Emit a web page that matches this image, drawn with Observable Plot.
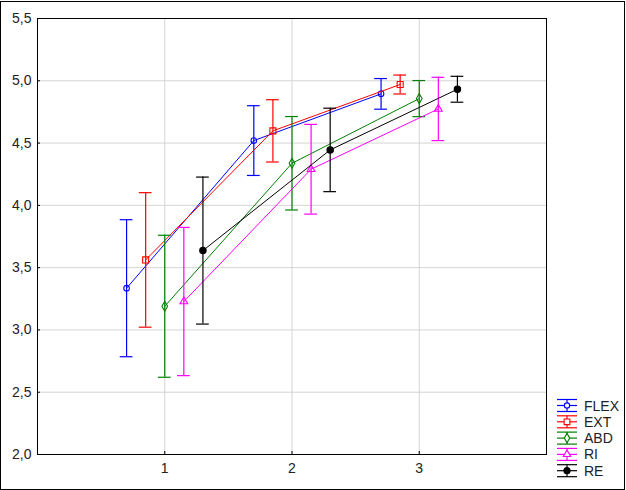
<!DOCTYPE html>
<html>
<head>
<meta charset="utf-8">
<script src="https://cdn.jsdelivr.net/npm/d3@7"></script>
<script src="https://cdn.jsdelivr.net/npm/@observablehq/plot@0.6"></script>
<style>
  html, body { margin: 0; padding: 0; background: #fff; }
  #chart { width: 626px; height: 490px; }
</style>
</head>
<body>
<div id="chart"></div>
<script>
// ---- data ----
const series = ["FLEX", "EXT", "ABD", "RI", "RE"];
const groups = [1, 2, 3];
const means = {
  FLEX: [3.335, 4.52, 4.895],
  EXT:  [3.562, 4.598, 4.97],
  ABD:  [3.19, 4.338, 4.857],
  RI:   [3.228, 4.29, 4.774],
  RE:   [3.637, 4.445, 4.932]
};
const errors = {
  FLEX: [0.55, 0.28, 0.123],
  EXT:  [0.54, 0.25, 0.076],
  ABD:  [0.57, 0.375, 0.145],
  RI:   [0.595, 0.36, 0.254],
  RE:   [0.59, 0.335, 0.104]
};
const yTicks = [2.0, 2.5, 3.0, 3.5, 4.0, 4.5, 5.0, 5.5];
const xTicks = [1, 2, 3];

// ---- styles / layout ----
const colors = { FLEX: "#0000ff", EXT: "#ff0000", ABD: "#008000", RI: "#ff00ff", RE: "#000000" };
const symbols = { FLEX: "circle", EXT: "square", ABD: "diamond", RI: "triangle", RE: "circle" };
const radii = { FLEX: 2.8, EXT: 3.4, ABD: 3, ABD2: 3, RI: 2.9, RE: 3.2 };
const filled = { FLEX: false, EXT: false, ABD: false, RI: false, RE: true };
const dodge = { FLEX: -0.3, EXT: -0.15, ABD: 0, RI: 0.15, RE: 0.3 };
const capHalf = 0.05;

const rows = [];
series.forEach(s => groups.forEach((g, i) => {
  rows.push({ s, x: g + dodge[s], m: means[s][i], lo: means[s][i] - errors[s][i], hi: means[s][i] + errors[s][i] });
}));

const fmt = d => d3.format(".1f")(d).replace(".", ",");

const marks = [
  Plot.gridX(xTicks, { stroke: "#d4d4d4", strokeOpacity: 1 }),
  Plot.gridY(yTicks.filter(d => d > 2 && d < 5.5), { stroke: "#d4d4d4", strokeOpacity: 1 }),
  Plot.axisY(yTicks, { tickSize: 0, tickPadding: 6, tickFormat: fmt, label: null, fill: "#222" }),
  Plot.axisY(yTicks, { tickSize: -3, tickFormat: () => "", label: null, stroke: "#000" }),
  Plot.axisX(xTicks, { tickSize: 0, tickPadding: 9, tickFormat: d => String(d), label: null, fill: "#222" }),
  Plot.axisX(xTicks, { tickSize: -3, tickFormat: () => "", label: null, stroke: "#000" })
];

series.forEach(s => {
  const d = rows.filter(r => r.s === s);
  const c = colors[s];
  marks.push(
    Plot.line(d, { x: "x", y: "m", stroke: c, strokeWidth: 1 }),
    Plot.ruleX(d, { x: "x", y1: "lo", y2: "hi", stroke: c, strokeWidth: 1.2 }),
    Plot.ruleY(d, { y: "hi", x1: r => r.x - capHalf, x2: r => r.x + capHalf, stroke: c, strokeWidth: 1.2 }),
    Plot.ruleY(d, { y: "lo", x1: r => r.x - capHalf, x2: r => r.x + capHalf, stroke: c, strokeWidth: 1.2 }),
    Plot.dot(d, { x: "x", y: "m", r: radii[s], symbol: symbols[s], stroke: c, strokeWidth: 1.1,
                  fill: filled[s] ? c : "none" })
  );
});
marks.push(Plot.frame({ stroke: "#000", strokeWidth: 1 }));

const chart = Plot.plot({
  width: 626,
  height: 490,
  marginLeft: 37,
  marginTop: 18,
  marginRight: 80,
  marginBottom: 36,
  x: { domain: [0, 4] },
  y: { domain: [2, 5.5] },
  style: { fontFamily: "'Liberation Sans', Arial, sans-serif", fontSize: "14px", background: "#fff", color: "#222" },
  marks
});
document.getElementById("chart").appendChild(chart);

// ---- legend & outer border ----
const svg = d3.select(chart);
const lg = svg.append("g").attr("text-anchor", "start");
const symMap = { circle: d3.symbolCircle, square: d3.symbolSquare, diamond: d3.symbolDiamond, triangle: d3.symbolTriangle };
series.forEach((s, i) => {
  const cy = 405.5 + i * 16.3;
  const c = colors[s];
  const g = lg.append("g");
  [cy - 6, cy, cy + 6].forEach(y => g.append("line").attr("x1", 557).attr("x2", 577).attr("y1", y).attr("y2", y).attr("stroke", c).attr("stroke-width", 1.2));
  g.append("line").attr("x1", 567).attr("x2", 567).attr("y1", cy - 6).attr("y2", cy + 6).attr("stroke", c).attr("stroke-width", 1.2);
  const lr = radii[s] * 0.95;
  g.append("path")
    .attr("d", d3.symbol().type(symMap[symbols[s]]).size(Math.PI * lr * lr)())
    .attr("transform", `translate(567,${cy})`)
    .attr("fill", filled[s] ? c : "#fff").attr("stroke", c).attr("stroke-width", 1.1);
  g.append("text").attr("x", 584).attr("y", cy + 5).attr("fill", "#222").attr("text-anchor", "start")
    .style("font-size", "14px").style("font-family", "'Liberation Sans', Arial, sans-serif").text(s);
});
svg.append("rect").attr("x", 0.5).attr("y", 1.5).attr("width", 624).attr("height", 488)
  .attr("fill", "none").attr("stroke", "#000").attr("stroke-width", 1);
</script>
</body>
</html>
